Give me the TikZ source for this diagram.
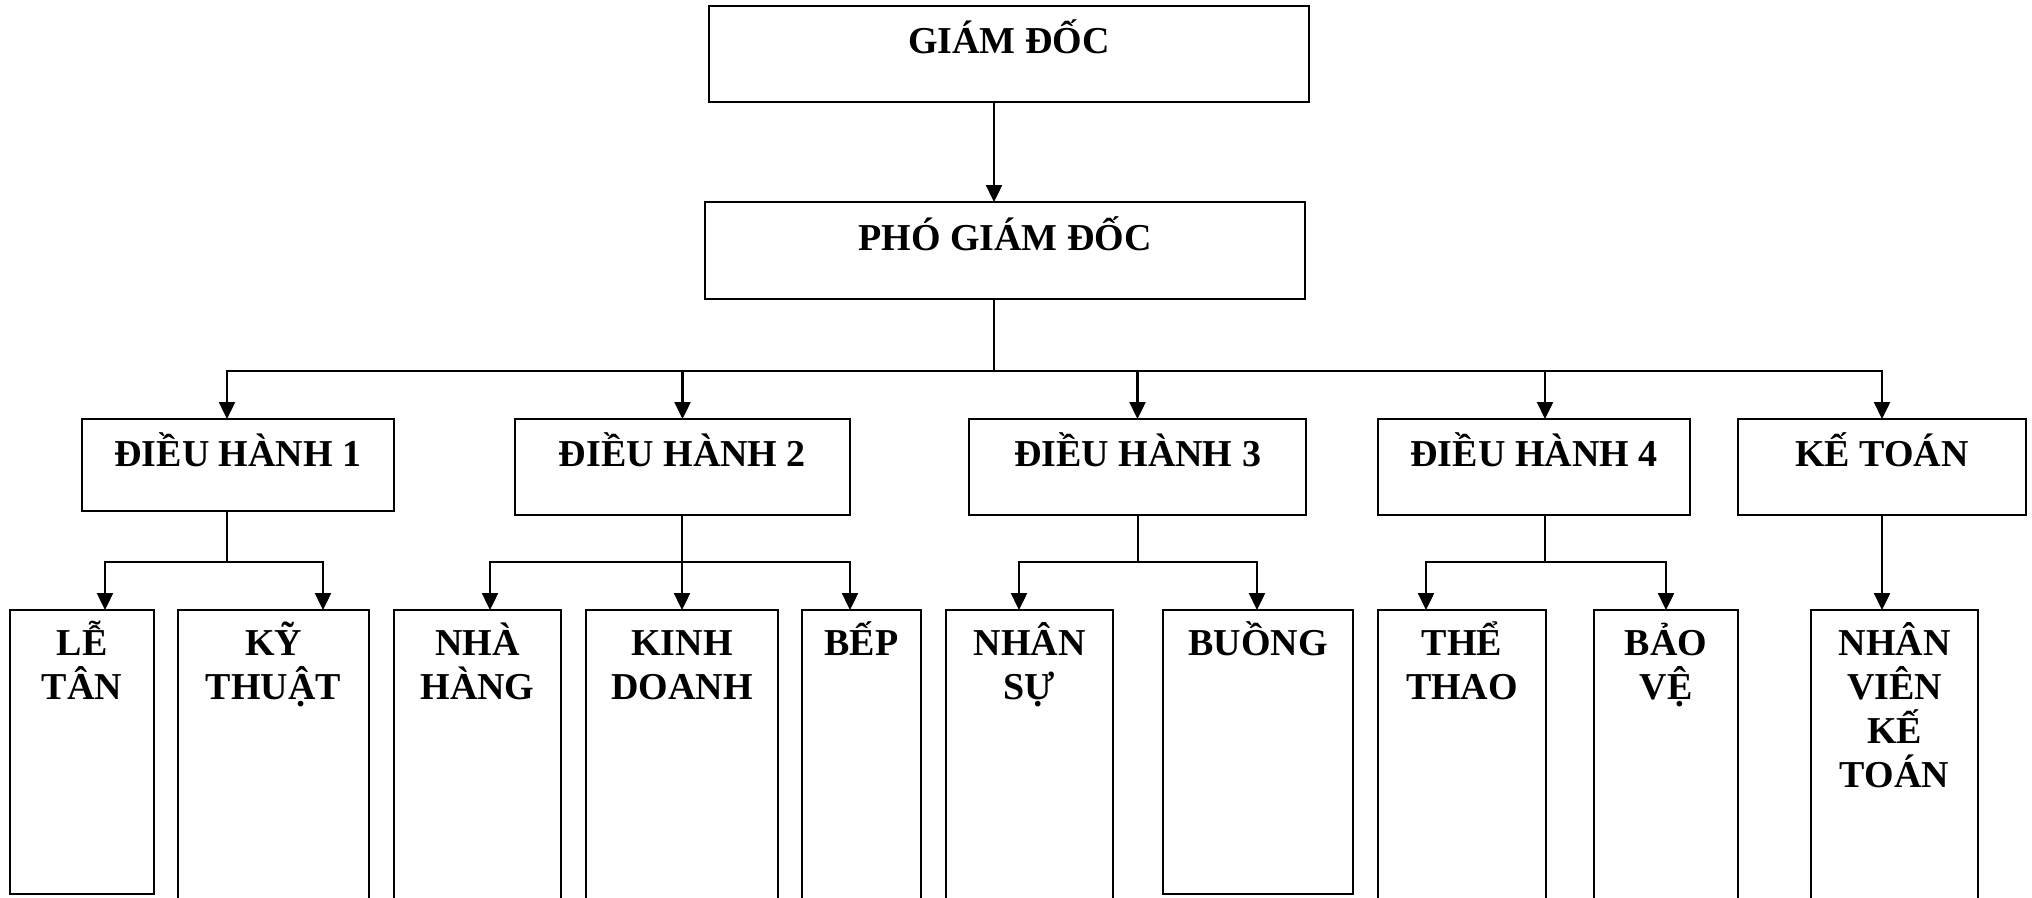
\documentclass[tikz,border=0pt]{standalone}
\usepackage{fontspec}
\setmainfont{Liberation Serif}
\usetikzlibrary{arrows.meta}
\begin{document}
\begin{tikzpicture}[x=1pt,y=-1pt,
  box/.style={draw, line width=2.2pt, rectangle, inner sep=0pt, outer sep=0pt, anchor=north west},
  lbl/.style={anchor=north, inner sep=0pt, outer sep=0pt, align=center, font=\bfseries\fontsize{38}{44}\selectfont},
  arr/.style={line width=2.4pt, -{Triangle[length=17pt,width=16pt]}},
  bus/.style={line width=2.4pt},
  stem/.style={line width=1.4pt}]
\useasboundingbox (0,0) rectangle (2032,897);
\clip (0,0) rectangle (2032,897);

% boxes
\node[box, minimum width=600pt, minimum height=96pt] (gd)  at (709,6) {};
\node[box, minimum width=600pt, minimum height=97pt] (pgd) at (705,202) {};
\node[box, minimum width=312pt, minimum height=92pt] (dh1) at (82,419) {};
\node[box, minimum width=335pt, minimum height=96pt] (dh2) at (515,419) {};
\node[box, minimum width=337pt, minimum height=96pt] (dh3) at (969,419) {};
\node[box, minimum width=312pt, minimum height=96pt] (dh4) at (1378,419) {};
\node[box, minimum width=288pt, minimum height=96pt] (kt)  at (1738,419) {};
\node[box, minimum width=144pt, minimum height=284pt] (lt)  at (10,610) {};
\node[box, minimum width=191pt, minimum height=320pt] (kth) at (178,610) {};
\node[box, minimum width=167pt, minimum height=320pt] (nh)  at (394,610) {};
\node[box, minimum width=192pt, minimum height=320pt] (kd)  at (586,610) {};
\node[box, minimum width=119pt, minimum height=320pt] (bep) at (802,610) {};
\node[box, minimum width=167pt, minimum height=320pt] (ns)  at (946,610) {};
\node[box, minimum width=190pt, minimum height=284pt] (bg)  at (1163,610) {};
\node[box, minimum width=168pt, minimum height=320pt] (tt)  at (1378,610) {};
\node[box, minimum width=144pt, minimum height=320pt] (bv)  at (1594,610) {};
\node[box, minimum width=167pt, minimum height=320pt] (nv)  at (1811,610) {};

% labels
\node[lbl] (gdt)  at ([yshift=-11pt]gd.north)  {\rule{0pt}{36pt}GIÁM ĐỐC};
\node[lbl] (pgdt) at ([yshift=-12pt]pgd.north) {\rule{0pt}{36pt}PHÓ GIÁM ĐỐC};
\node[lbl] (dh1t) at ([yshift=-11pt]dh1.north) {\rule{0pt}{36pt}ĐIỀU HÀNH 1};
\node[lbl] (dh2t) at ([yshift=-11pt]dh2.north) {\rule{0pt}{36pt}ĐIỀU HÀNH 2};
\node[lbl] (dh3t) at ([yshift=-11pt]dh3.north) {\rule{0pt}{36pt}ĐIỀU HÀNH 3};
\node[lbl] (dh4t) at ([yshift=-11pt]dh4.north) {\rule{0pt}{36pt}ĐIỀU HÀNH 4};
\node[lbl] (ktt)  at ([yshift=-11pt]kt.north)  {\rule{0pt}{36pt}KẾ TOÁN};
\node[lbl] (ltt)  at ([yshift=-9pt]lt.north)   {\rule{0pt}{36pt}LỄ\\TÂN};
\node[lbl] (ktht) at ([yshift=-9pt]kth.north)  {\rule{0pt}{36pt}KỸ\\THUẬT};
\node[lbl] (nht)  at ([yshift=-9pt]nh.north)   {\rule{0pt}{36pt}NHÀ\\HÀNG};
\node[lbl] (kdt)  at ([yshift=-9pt]kd.north)   {\rule{0pt}{36pt}KINH\\DOANH};
\node[lbl] (bept) at ([yshift=-9pt]bep.north)  {\rule{0pt}{36pt}BẾP};
\node[lbl] (nst)  at ([yshift=-9pt]ns.north)   {\rule{0pt}{36pt}NHÂN\\SỰ};
\node[lbl] (bgt)  at ([yshift=-9pt]bg.north)   {\rule{0pt}{36pt}BUỒNG};
\node[lbl] (ttt)  at ([yshift=-9pt]tt.north)   {\rule{0pt}{36pt}THỂ\\THAO};
\node[lbl] (bvt)  at ([yshift=-9pt]bv.north)   {\rule{0pt}{36pt}BẢO\\VỆ};
\node[lbl] (nvt)  at ([yshift=-9pt]nv.north)   {\rule{0pt}{36pt}NHÂN\\VIÊN\\KẾ\\TOÁN};

% top connectors
\coordinate (sp) at (994,371);
\coordinate (x1) at (227,371);
\coordinate (x4) at (1545,371);
\draw[arr] (gd.south -| sp) -- (pgd.north -| sp);
\draw[stem] (pgd.south -| sp) -- (sp);
\draw[arr] (sp) -| (dh1.north -| x1);
\draw[arr] (sp) -| (kt.north);
\draw[arr] (dh2.north |- sp) -- (dh2.north);
\draw[arr] (dh3.north |- sp) -- (dh3.north);
\draw[arr] (x4) -- (dh4.north -| x4);

% DH1
\coordinate (j1) at (227,562);
\coordinate (a1) at (105,562);
\coordinate (a2) at (323,562);
\draw[stem] (dh1.south -| j1) -- (j1);
\draw[arr] (j1) -| (lt.north -| a1);
\draw[arr] (j1) -| (kth.north -| a2);

% DH2
\coordinate (j2) at (682,562);
\coordinate (a3) at (490,562);
\coordinate (a4) at (850,562);
\draw[arr] (dh2.south -| j2) -- (kd.north -| j2);
\draw[arr] (j2) -| (nh.north -| a3);
\draw[arr] (j2) -| (bep.north -| a4);

% DH3
\coordinate (j3) at (1138,562);
\coordinate (a5) at (1019,562);
\coordinate (a6) at (1257,562);
\draw[stem] (dh3.south -| j3) -- (j3);
\draw[arr] (j3) -| (ns.north -| a5);
\draw[arr] (j3) -| (bg.north -| a6);

% DH4
\coordinate (j4) at (1545,562);
\coordinate (a7) at (1426,562);
\coordinate (a8) at (1666,562);
\draw[bus] (dh4.south -| j4) -- (j4);
\draw[arr] (j4) -| (tt.north -| a7);
\draw[arr] (j4) -| (bv.north -| a8);

% KT
\draw[arr] (kt.south) -- (kt.south |- nv.north);
\end{tikzpicture}
\end{document}
